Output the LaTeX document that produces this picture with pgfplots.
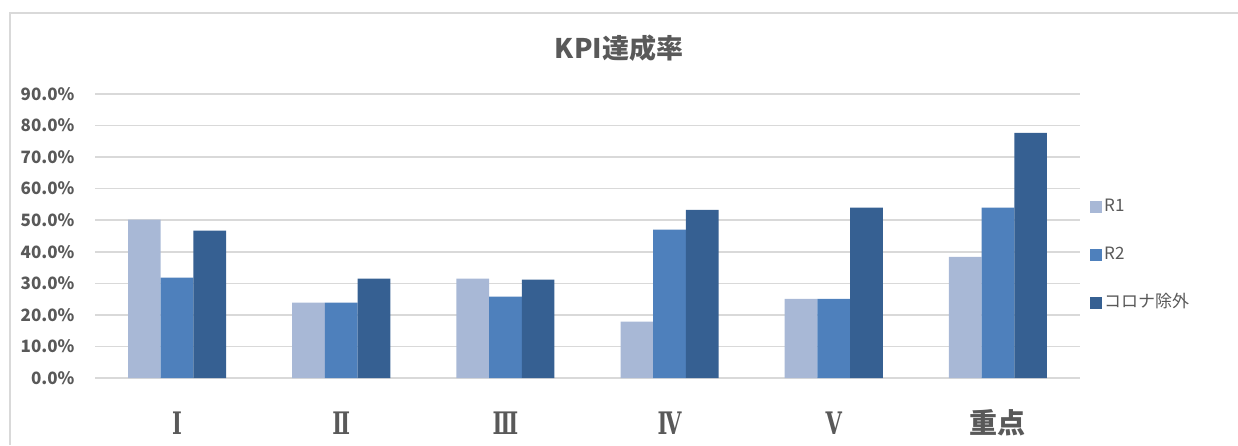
\documentclass[border=0pt]{standalone}
\usepackage{fontspec}
\setmainfont{Noto Sans CJK JP}
\newfontfamily\numfont[FakeStretch=0.68]{DejaVu Serif}
\usepackage{pgfplots}
\pgfplotsset{compat=1.18}
\definecolor{txtgray}{HTML}{595959}
\definecolor{gridgray}{HTML}{D9D9D9}
\definecolor{cR1}{HTML}{A8B8D6}
\definecolor{cR2}{HTML}{4E80BC}
\definecolor{cR3}{HTML}{366092}
\newcommand{\rn}[1]{\raisebox{-1pt}{\numfont\fontsize{31}{32}\selectfont\bfseries #1}}
\begin{document}
\begin{tikzpicture}[x=1pt,y=1pt]
\useasboundingbox (0,0) rectangle (1238,445);
\draw[gridgray, line width=1.2pt] (10,0) -- (10,432) -- (1238,432);
\node[txtgray, font=\fontsize{27}{30}\selectfont\bfseries] at (619,397) {KPI達成率};
\begin{axis}[
  at={(95pt,67pt)}, anchor=south west,
  scale only axis, width=985pt, height=284pt,
  xmin=-0.5, xmax=5.5, ymin=0, ymax=90,
  ybar=0pt, bar width=32.7pt,
  ytick={0,10,...,90},
  xtick={0,1,2,3,4,5},
  xticklabels={\rn{Ⅰ},\rn{Ⅱ},\rn{Ⅲ},\rn{Ⅳ},\rn{Ⅴ},重点},
  ymajorgrids,
  grid style={draw=gridgray, line width=1.5pt},
  axis line style={draw=none},
  major tick length=0pt,
  /pgf/number format/assume math mode=true,
  yticklabel={\pgfmathprintnumber[fixed,fixed zerofill,precision=1]{\tick}\%},
  yticklabel style={font=\fontsize{17}{19}\selectfont\bfseries, text=txtgray, xshift=-17pt},
  xticklabel style={font=\fontsize{28}{30}\selectfont\bfseries, text=txtgray, anchor=base, yshift=-55pt},
  legend style={at={(1,0.5)}, anchor=west, xshift=7pt, yshift=-19pt, draw=none,
     font=\fontsize{17}{19}\selectfont, text=txtgray,
     nodes={inner sep=2pt, text height=12pt, text depth=3pt},
     row sep=29pt},
  legend cell align=left,
  legend image code/.code={\fill[#1,draw=none] (0pt,-6pt) rectangle (12pt,6pt);},
]
\addplot[fill=cR1, draw=none] coordinates {(0,50.2) (1,23.9) (2,31.5) (3,17.9) (4,25.1) (5,38.4)};
\addplot[fill=cR2, draw=none] coordinates {(0,31.8) (1,23.9) (2,25.8) (3,47.0) (4,25.1) (5,54.0)};
\addplot[fill=cR3, draw=none] coordinates {(0,46.7) (1,31.5) (2,31.2) (3,53.3) (4,54.0) (5,77.7)};
\legend{R1,R2,コロナ除外}
\end{axis}
\end{tikzpicture}
\end{document}
